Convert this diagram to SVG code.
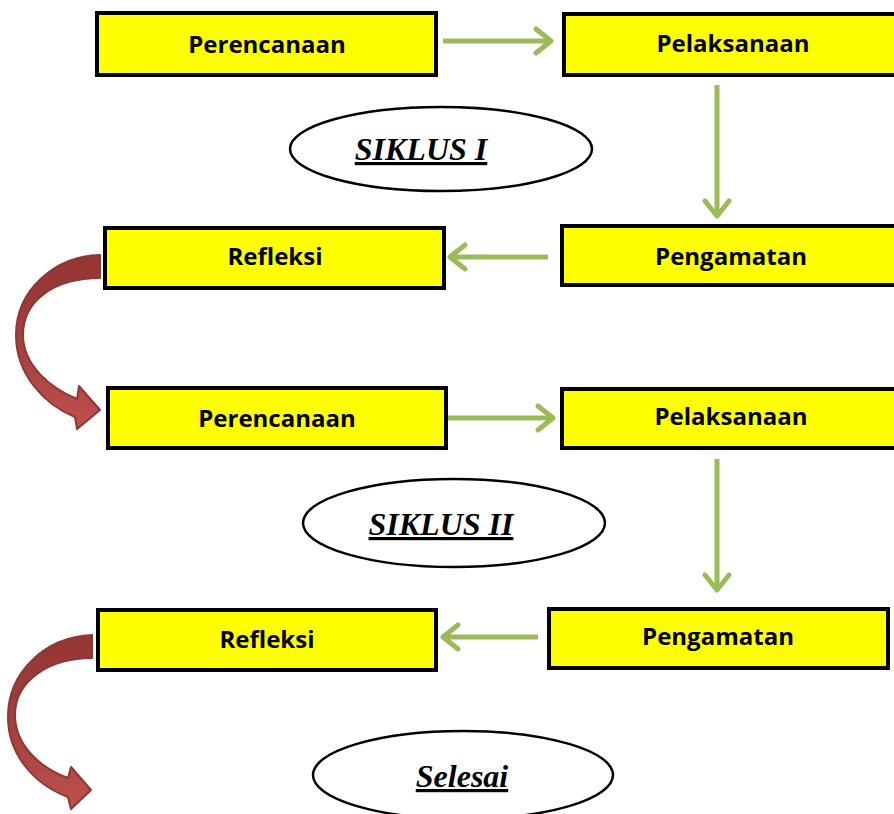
<svg xmlns="http://www.w3.org/2000/svg" width="894" height="814" viewBox="0 0 894 814">
<style>
.box rect{fill:#FFFF00;stroke:#000;stroke-width:4}
.box text{font-family:"Open Sans","Liberation Sans",sans-serif;font-weight:bold;font-size:24px;fill:#000;text-anchor:middle}
.oval ellipse{fill:#fff;stroke:#000;stroke-width:2.5}
.oval text{font-family:"Liberation Serif","Times New Roman",serif;font-weight:bold;font-style:italic;font-size:32px;fill:#000;text-anchor:middle;text-decoration:underline}
.g{stroke:#9BBB59;stroke-width:5;fill:none;marker-end:url(#chev)}
.red{fill:url(#redgrad);stroke:#8C3836;stroke-width:2;stroke-linejoin:round}
</style>
<defs>
<marker id="chev" markerUnits="userSpaceOnUse" markerWidth="30" markerHeight="30" viewBox="-20 -15 25 30" refX="0" refY="0" orient="auto">
<path d="M-15,-12 L0,0 L-15,12" fill="none" stroke="#9BBB59" stroke-width="5" stroke-linecap="round" stroke-linejoin="round"/>
</marker>
<linearGradient id="redgrad" x1="0" y1="0" x2="0" y2="1">
<stop offset="0" stop-color="#943634"/>
<stop offset="0.5" stop-color="#A2403E"/>
<stop offset="1" stop-color="#C0504D"/>
</linearGradient>
</defs>

<g id="connectors">
<path class="g" d="M443,41 H551"/>
<path class="g" d="M717,85 V216"/>
<path class="g" d="M548,257 H450"/>
<path class="g" d="M448,418 H553"/>
<path class="g" d="M717,459 V590"/>
<path class="g" d="M538,637 H443"/>
<path id="curve1" class="red" d="M100,255 C55,256 16,290 16,335 C16,375 45,405 75,417 L77,429 L100,410 L79,386 L77,399 C50,388 23,365 23,335 C23,300 55,278 100,278 Z"/>
<path id="curve2" class="red" d="M92,635 C45,637 8,672 8,717 C8,755 35,785 68,797 L71,809 L91,790 L71,767 L68,778 C40,768 15,745 15,715 C15,680 50,658 92,658 Z"/>
</g>

<g id="perencanaan1" class="box"><rect x="97" y="13" width="339" height="62"/><text x="267" y="53">Perencanaan</text></g>
<g id="pelaksanaan1" class="box"><rect x="564" y="14" width="340" height="61"/><text x="733" y="52">Pelaksanaan</text></g>
<g id="pengamatan1" class="box"><rect x="562" y="226" width="340" height="59"/><text x="731" y="265">Pengamatan</text></g>
<g id="refleksi1" class="box"><rect x="105" y="228" width="339" height="60"/><text x="275" y="265">Refleksi</text></g>
<g id="perencanaan2" class="box"><rect x="108" y="388" width="338" height="60"/><text x="277" y="427">Perencanaan</text></g>
<g id="pelaksanaan2" class="box"><rect x="562" y="389" width="340" height="59"/><text x="731" y="425">Pelaksanaan</text></g>
<g id="pengamatan2" class="box"><rect x="549" y="609" width="339" height="59"/><text x="718" y="645">Pengamatan</text></g>
<g id="refleksi2" class="box"><rect x="98" y="610" width="338" height="60"/><text x="267" y="648">Refleksi</text></g>

<g id="siklus1" class="oval"><ellipse cx="441" cy="149" rx="151" ry="42"/><text x="421" y="160">SIKLUS I</text></g>
<g id="siklus2" class="oval"><ellipse cx="454" cy="523" rx="151" ry="44"/><text x="441" y="535">SIKLUS II</text></g>
<g id="selesai" class="oval"><ellipse cx="463" cy="775" rx="150" ry="44"/><text x="462" y="787">Selesai</text></g>
</svg>
